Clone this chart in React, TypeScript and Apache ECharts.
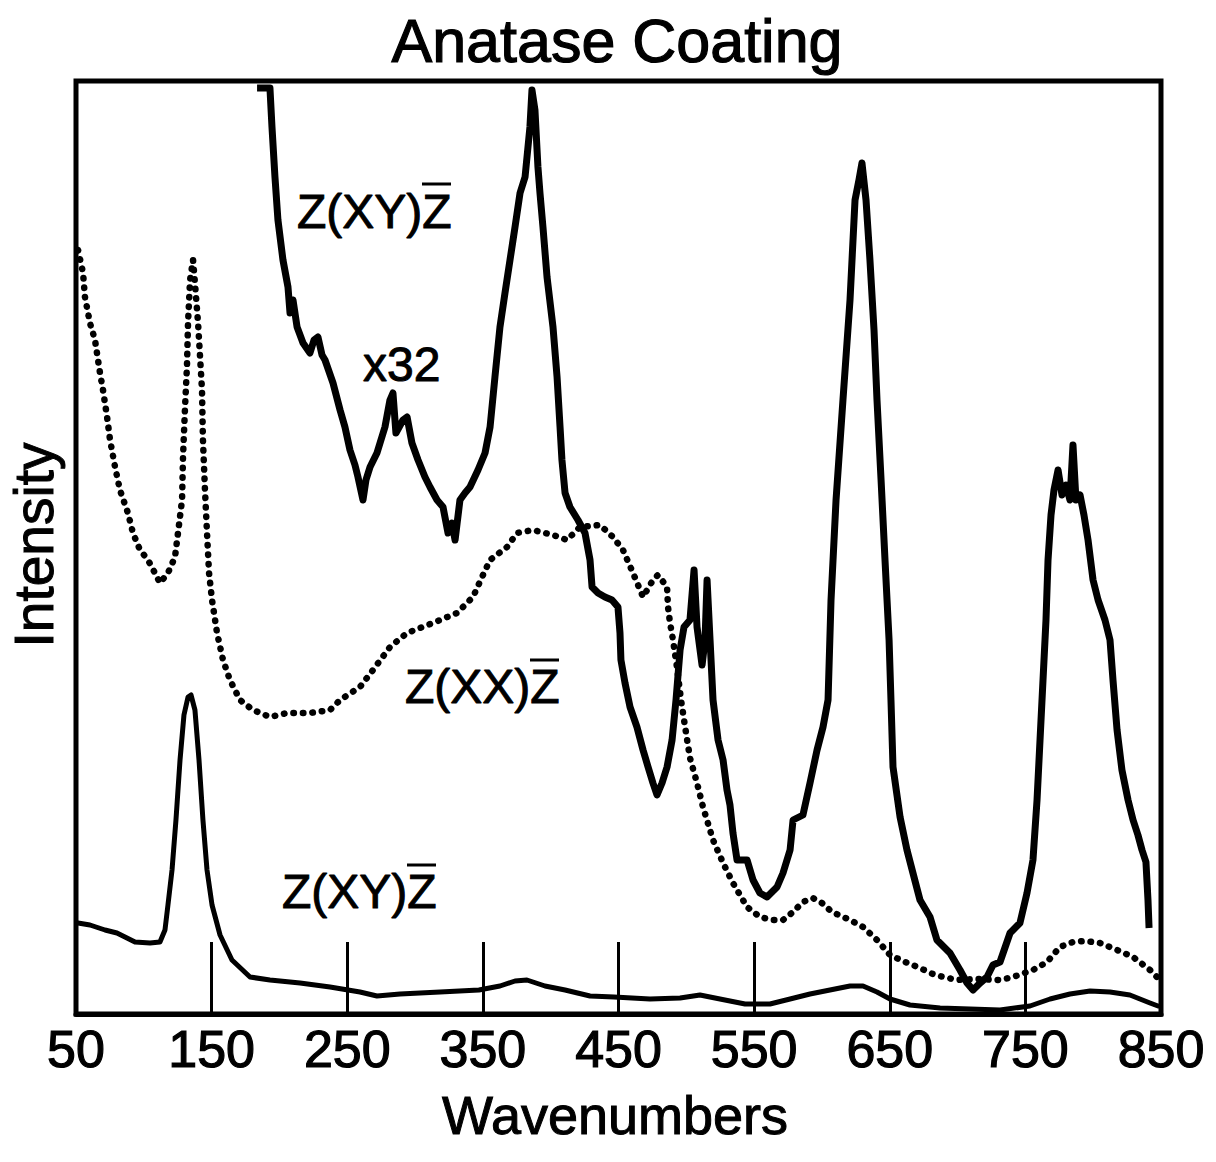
import React, { useEffect, useRef } from "react";
import * as echarts from "echarts";

// Wavenumber (cm^-1) vs intensity (arbitrary units, 0..933)
// Z(XY)Z̄ spectrum, scaled x32 (thick line)
const xyScaled: [number, number][] = [
  [183.5, 926], [193.0, 926], [194.5, 887], [196.7, 837], [198.9, 794], [202.6, 754], [206.3, 727], [207.8, 701],
  [210.0, 714], [213.0, 687], [217.4, 671], [222.5, 661], [225.5, 674], [228.4, 677], [231.4, 659], [233.6, 654],
  [239.5, 631], [244.7, 604], [248.3, 587], [252.0, 564], [255.7, 549], [257.9, 537], [261.6, 514], [263.8, 534],
  [266.8, 547], [271.9, 561], [277.8, 587], [281.5, 614], [283.7, 621], [285.9, 581], [291.1, 594], [294.1, 597],
  [297.7, 571], [302.2, 554], [307.3, 537], [311.0, 527], [316.2, 514], [320.6, 507], [324.3, 481], [327.2, 491],
  [329.5, 474], [333.1, 514], [336.8, 521], [340.5, 527], [346.4, 544], [351.6, 561], [355.3, 587], [358.9, 637],
  [362.6, 687], [366.3, 721], [370.0, 754], [373.7, 787], [377.4, 821], [381.1, 837], [384.7, 887], [386.2, 924],
  [388.4, 904], [390.6, 847], [392.1, 821], [394.3, 787], [397.3, 737], [401.7, 687], [404.7, 637], [406.9, 587],
  [408.3, 554], [410.6, 521], [414.2, 507], [420.1, 494], [425.3, 481], [429.0, 454], [430.5, 427], [434.9, 421],
  [440.0, 417], [445.2, 414], [449.6, 407], [451.1, 381], [451.8, 354], [454.8, 331], [458.5, 307], [463.6, 287],
  [468.1, 264], [471.8, 247], [475.4, 231], [478.4, 219], [482.1, 231], [485.8, 247], [489.5, 274], [492.4, 314],
  [495.4, 364], [498.3, 387], [502.7, 394], [505.7, 444], [507.9, 387], [511.6, 349], [513.8, 374], [515.3, 434],
  [517.5, 374], [519.7, 314], [523.4, 274], [527.1, 254], [530.0, 224], [532.2, 209], [534.4, 181], [537.4, 154],
  [544.8, 154], [549.2, 134], [554.3, 121], [559.5, 117], [566.9, 127], [571.3, 141], [576.5, 164], [578.7, 194],
  [586.0, 199], [591.2, 231], [596.4, 264], [600.8, 287], [604.5, 314], [606.7, 414], [610.4, 514], [615.5, 614],
  [620.7, 714], [624.4, 814], [627.3, 834], [629.5, 851], [632.5, 814], [635.4, 754], [638.4, 684], [640.6, 614],
  [643.6, 534], [646.5, 454], [649.5, 374], [650.9, 314], [652.4, 247], [657.6, 197], [662.7, 164], [667.1, 141],
  [672.3, 114], [679.7, 97], [684.8, 74], [694.4, 61], [701.8, 44], [707.0, 31], [711.4, 24], [716.6, 31],
  [721.7, 37], [726.1, 49], [731.3, 52], [738.7, 81], [746.0, 91], [751.2, 121], [755.6, 154], [758.6, 214],
  [760.8, 274], [763.0, 334], [765.2, 394], [766.7, 454], [768.9, 499], [771.1, 524], [774.1, 544], [777.0, 519],
  [780.0, 529], [782.9, 514], [785.1, 569], [787.3, 514], [790.3, 519], [793.2, 499], [796.2, 474], [799.9, 434],
  [803.6, 414], [808.7, 394], [812.4, 374], [814.6, 334], [817.6, 284], [821.2, 244], [825.7, 214], [829.4, 194],
  [833.0, 179], [836.0, 164], [838.9, 152], [840.4, 114], [841.2, 86],
];

// Z(XX)Z̄ spectrum (dotted line)
const xxDotted: [number, number][] = [
  [51.5, 764], [55.2, 741], [56.6, 717], [60.3, 691], [64.0, 674], [67.7, 641], [69.9, 624], [72.9, 597],
  [75.1, 574], [78.8, 547], [82.4, 524], [88.3, 501], [92.0, 481], [97.2, 464], [103.1, 454], [108.2, 441],
  [111.9, 431], [117.8, 441], [123.0, 457], [125.2, 481], [128.2, 514], [128.9, 557], [130.4, 607], [131.8, 647],
  [132.6, 691], [134.1, 734], [136.3, 754], [137.7, 731], [140.0, 691], [142.9, 624], [143.6, 574], [145.1, 524],
  [146.6, 481], [148.1, 441], [150.3, 414], [154.0, 381], [158.4, 354], [163.5, 334], [170.9, 314], [180.5, 304],
  [193.0, 297], [205.6, 301], [222.5, 301], [237.3, 304], [244.7, 314], [259.4, 327], [269.0, 344], [281.5, 367],
  [294.1, 381], [313.2, 391], [330.9, 401], [342.7, 417], [349.4, 437], [355.3, 454], [367.8, 467], [375.2, 481],
  [387.0, 484], [401.7, 479], [412.0, 474], [421.6, 487], [436.4, 489], [445.9, 477], [453.3, 464], [460.7, 441],
  [468.1, 417], [475.4, 434], [479.1, 439], [485.8, 427], [486.5, 407], [488.0, 391], [490.2, 374], [493.1, 347],
  [496.1, 314], [499.8, 281], [502.7, 256], [507.9, 231], [512.3, 207], [519.7, 174], [527.1, 151], [534.4, 131],
  [544.8, 107], [554.3, 97], [563.2, 94], [571.3, 94], [578.7, 102], [586.0, 112], [593.4, 116], [600.0, 111],
  [607.4, 102], [620.7, 94], [630.3, 87], [640.6, 74], [650.2, 59], [661.3, 52], [672.3, 46], [683.4, 39],
  [699.6, 34], [714.3, 35], [731.3, 34], [740.9, 37], [755.6, 44], [766.0, 52], [775.5, 67], [785.1, 72],
  [794.0, 73], [805.0, 71], [817.6, 64], [829.4, 57], [841.9, 44], [847.0, 37],
];

// Z(XY)Z̄ spectrum, unscaled (thin solid line at bottom)
const xyUnscaled: [number, number][] = [
  [51.5, 91], [60.3, 89], [71.4, 84], [80.2, 81], [93.5, 72], [104.6, 71], [111.9, 72], [115.6, 84],
  [117.8, 109], [120.8, 144], [123.7, 194], [126.7, 254], [129.6, 299], [132.6, 317], [134.8, 319], [137.7, 304],
  [140.7, 254], [143.6, 194], [146.6, 144], [150.3, 109], [156.2, 79], [165.0, 54], [178.3, 37], [193.0, 34],
  [215.2, 31], [237.3, 27], [259.4, 22], [271.9, 18], [288.9, 20], [318.4, 22], [347.1, 24], [362.6, 28],
  [373.7, 33], [382.5, 34], [395.8, 28], [410.6, 24], [429.0, 18], [446.7, 17], [473.2, 15], [495.4, 16],
  [510.1, 19], [524.8, 15], [543.3, 10], [561.7, 10], [576.5, 15], [591.2, 20], [609.6, 25], [620.7, 28],
  [630.3, 28], [640.6, 22], [650.2, 15], [664.9, 9], [687.1, 6], [731.3, 4], [753.4, 8], [768.2, 15],
  [782.9, 20], [797.7, 23], [812.4, 22], [827.1, 19], [841.9, 11], [847.8, 8],
];

const X_MIN = 50;
const X_MAX = 850;
const X_STEP = 100;
const Y_MIN = 0;
const Y_MAX = 933;

const TITLE = "Anatase Coating";
const X_NAME = "Wavenumbers";
const Y_NAME = "Intensity";

export default function App() {
  const ref = useRef<HTMLDivElement>(null);

  useEffect(() => {
    document.body.style.margin = "0";
    const chart = echarts.init(ref.current as HTMLDivElement, null, { renderer: "svg" });
    const font = "'Liberation Sans', Arial, Helvetica, sans-serif";
    const txt = (text: string, x: number, y: number, size: number, align = "left", rotation = 0) => ({
      type: "text",
      x,
      y,
      rotation,
      silent: true,
      style: {
        text,
        x: 0,
        y: 0,
        fill: "#000",
        fontSize: size,
        fontFamily: font,
        textAlign: align,
        textVerticalAlign: "middle",
        stroke: "#000",
        lineWidth: 1,
      },
    });
    const bar = (x1: number, x2: number, y: number) => ({
      type: "line",
      silent: true,
      shape: { x1, y1: y, x2, y2: y },
      style: { stroke: "#000", lineWidth: 3 },
    });

    chart.setOption({
      animation: false,
      backgroundColor: "#ffffff",
      title: {
        text: TITLE,
        left: 617,
        top: 10,
        padding: 0,
        textAlign: "center",
        textStyle: {
          fontFamily: font,
          fontSize: 61,
          fontWeight: "normal",
          color: "#000",
          textBorderColor: "#000",
          textBorderWidth: 1.2,
        },
      },
      grid: {
        left: 76,
        top: 81,
        width: 1085,
        height: 933,
        show: true,
        borderColor: "#000",
        borderWidth: 5,
        backgroundColor: "transparent",
      },
      xAxis: {
        type: "value",
        min: X_MIN,
        max: X_MAX,
        interval: X_STEP,
        axisLine: { show: true, lineStyle: { color: "#000", width: 5 } },
        axisTick: { show: true, inside: true, length: 72, lineStyle: { color: "#000", width: 3 } },
        axisLabel: {
          fontFamily: font,
          fontSize: 52,
          color: "#000",
          margin: 9,
          textBorderColor: "#000",
          textBorderWidth: 1.2,
        },
        splitLine: { show: false },
      },
      yAxis: {
        type: "value",
        min: Y_MIN,
        max: Y_MAX,
        axisLine: { show: false },
        axisTick: { show: false },
        axisLabel: { show: false },
        splitLine: { show: false },
      },
      graphic: [
        txt(X_NAME, 615, 1115, 54, "center"),
        txt(Y_NAME, 34, 545, 55, "center", Math.PI / 2),
        txt("Z(XY)Z", 297, 211, 48),
        bar(422, 451, 184),
        txt("x32", 363, 364, 48),
        txt("Z(XX)Z", 405, 686, 48),
        bar(530, 559, 660),
        txt("Z(XY)Z", 282, 891, 48),
        bar(407, 436, 865),
      ],
      series: [
        {
          name: "Z(XY)Z̄",
          type: "line",
          data: xyUnscaled,
          showSymbol: false,
          lineStyle: { color: "#000", width: 5, cap: "round", join: "round" },
          z: 2,
        },
        {
          name: "Z(XX)Z̄",
          type: "line",
          data: xxDotted,
          showSymbol: false,
          lineStyle: { color: "#000", width: 6.5, type: [0.5, 9], cap: "round", join: "round" },
          z: 3,
        },
        {
          name: "Z(XY)Z̄ x32",
          type: "line",
          data: xyScaled,
          showSymbol: false,
          lineStyle: { color: "#000", width: 7, join: "round" },
          z: 4,
        },
      ],
    });

    return () => {
      chart.dispose();
    };
  }, []);

  return <div ref={ref} style={{ width: 1216, height: 1162 }} />;
}
